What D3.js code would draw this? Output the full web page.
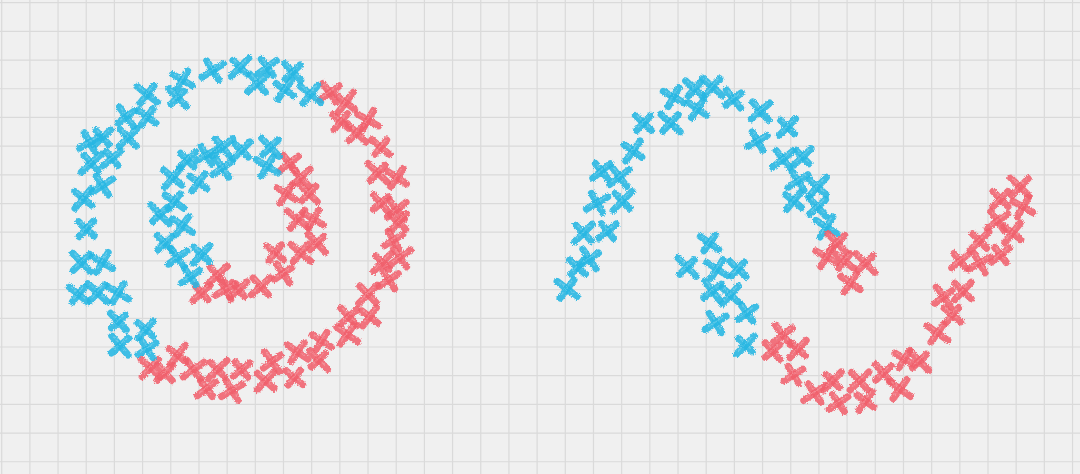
<!DOCTYPE html>
<html>
<head>
  <meta charset="utf-8">
  <script src="https://cdn.jsdelivr.net/npm/d3@7"></script>
  <title>Clustering on circles and moons</title>
  <style>
    html, body { margin: 0; padding: 0; background: #f0f0f0; }
    svg { display: block; }
  </style>
</head>
<body>
<svg width="1080" height="474"></svg>
<script>
  // circles dataset, outer radius = 1, inner ring ~0.5
  var circlesCyan = [
    [-0.33, 0.40], [-0.21, 0.43], [-0.11, 0.48], [0.01, 0.46], [-0.11, 0.35], [-0.42, 0.29],
    [-0.26, 0.26], [0.19, 0.48], [0.17, 0.36], [-0.41, 0.14], [-0.50, 0.06], [-0.36, -0.01],
    [-0.47, -0.12], [-0.39, -0.21], [-0.24, -0.19], [-0.31, -0.33],
    [-0.17, 0.96], [0.00, 0.98], [0.17, 0.98], [0.11, 0.88], [0.28, 0.84], [0.33, 0.95],
    [0.44, 0.81], [-0.36, 0.90], [-0.39, 0.79], [-0.58, 0.81], [-0.58, 0.67], [-0.71, 0.67],
    [-0.70, 0.54], [-0.86, 0.54], [-0.94, 0.51], [-0.93, 0.38], [-0.80, 0.41], [-0.86, 0.24],
    [-0.98, 0.16], [-0.96, -0.03], [-0.99, -0.24], [-0.86, -0.24], [-1.01, -0.44], [-0.89, -0.43],
    [-0.76, -0.43], [-0.76, -0.61], [-0.75, -0.76], [-0.59, -0.66], [-0.58, -0.78]
  ];
  var circlesRed = [
    [0.31, 0.38], [0.38, 0.29], [0.29, 0.19], [0.43, 0.19], [0.36, 0.03], [0.46, 0.03],
    [0.48, -0.12], [0.38, -0.18], [0.22, -0.18], [0.27, -0.31], [0.13, -0.39], [-0.01, -0.41],
    [-0.09, -0.41], [-0.14, -0.32], [-0.24, -0.43],
    [0.56, 0.82], [0.66, 0.76], [0.63, 0.64], [0.73, 0.57], [0.80, 0.65], [0.88, 0.48],
    [0.86, 0.32], [0.98, 0.29], [0.88, 0.13], [0.98, 0.09], [0.99, 0.01], [0.96, -0.10],
    [1.00, -0.21], [0.89, -0.24], [0.93, -0.35], [0.80, -0.44], [0.81, -0.58], [0.68, -0.58],
    [0.67, -0.69], [0.51, -0.73], [0.49, -0.85], [0.36, -0.80], [0.34, -0.96], [0.20, -0.86],
    [0.16, -0.98], [0.01, -0.91], [-0.05, -1.04], [-0.14, -0.91], [-0.21, -1.03], [-0.29, -0.91],
    [-0.39, -0.82], [-0.47, -0.93], [-0.56, -0.90]
  ];

  // moons dataset, x in [-1, 2], y in [-0.5, 1]
  var moonsCyan = [
    [-1.02, 0.03], [-0.95, 0.14], [-0.87, 0.18], [-0.91, 0.31], [-0.75, 0.32], [-0.82, 0.46],
    [-0.65, 0.47], [-0.79, 0.62], [-0.67, 0.59], [-0.58, 0.72], [-0.51, 0.86], [-0.33, 0.86],
    [-0.31, 0.99], [-0.17, 1.03], [-0.05, 1.04], [-0.15, 0.93], [0.09, 0.98], [0.27, 0.92],
    [0.45, 0.84], [0.25, 0.77], [0.42, 0.68], [0.55, 0.69], [0.52, 0.57], [0.65, 0.54],
    [0.49, 0.47], [0.65, 0.44], [0.71, 0.34],
    [-0.07, 0.26], [-0.22, 0.14], [-0.02, 0.13], [0.12, 0.13], [-0.05, 0.02], [0.07, 0.00],
    [0.18, -0.09], [-0.03, -0.14], [0.17, -0.25]
  ];
  var moonsRed = [
    [0.78, 0.26], [0.71, 0.19], [0.83, 0.17], [0.97, 0.16], [0.87, 0.06],
    [0.35, -0.28], [0.42, -0.20], [0.52, -0.27], [0.49, -0.40], [0.63, -0.49], [0.75, -0.43],
    [0.79, -0.54], [0.93, -0.43], [0.97, -0.53], [1.09, -0.39], [1.20, -0.47], [1.23, -0.32],
    [1.33, -0.33], [1.45, -0.19], [1.55, -0.10], [1.49, -0.01], [1.62, 0.02], [1.60, 0.17],
    [1.73, 0.16], [1.73, 0.27], [1.87, 0.20], [1.85, 0.37], [1.95, 0.31], [1.87, 0.48],
    [2.00, 0.54], [2.02, 0.44]
  ];

  var cyan = "#25b6e3", red = "#f0606c";

  var width = 1080, height = 474;
  var svg = d3.select( "svg" );

  // crayon look: rough edges
  var defs = svg.append( "defs" );
  var filter = defs.append( "filter" ).attr( "id", "crayon" )
      .attr( "x", "-20%" ).attr( "y", "-20%" ).attr( "width", "140%" ).attr( "height", "140%" );
  filter.append( "feTurbulence" ).attr( "type", "fractalNoise" ).attr( "baseFrequency", 0.9 )
      .attr( "numOctaves", 2 ).attr( "seed", 3 ).attr( "result", "noise" );
  filter.append( "feDisplacementMap" ).attr( "in", "SourceGraphic" ).attr( "in2", "noise" )
      .attr( "scale", 3.5 ).attr( "xChannelSelector", "R" ).attr( "yChannelSelector", "G" );

  // graph paper grid
  var gx = d3.range( 1.7, width, 28.18 ),
      gy = d3.range( 2.7, height, 28.69 );

  svg.append( "rect" ).attr( "width", width ).attr( "height", height ).attr( "fill", "#f0f0f0" );

  var grid = svg.append( "g" ).attr( "class", "grid" )
      .attr( "stroke", "#dadada" ).attr( "stroke-width", 1.2 );
  grid.selectAll( "line.v" ).data( gx ).enter().append( "line" )
      .attr( "class", "v" )
      .attr( "x1", function ( d ) { return d; } ).attr( "x2", function ( d ) { return d; } )
      .attr( "y1", 0 ).attr( "y2", height );
  grid.selectAll( "line.h" ).data( gy ).enter().append( "line" )
      .attr( "class", "h" )
      .attr( "y1", function ( d ) { return d; } ).attr( "y2", function ( d ) { return d; } )
      .attr( "x1", 0 ).attr( "x2", width );

  // scales for the two panels
  var cx = d3.scaleLinear().domain( [-1, 1] ).range( [80, 400] ),
      cy = d3.scaleLinear().domain( [-1, 1] ).range( [384, 64] );
  var mx = d3.scaleLinear().domain( [-1, 2] ).range( [570, 1020] ),
      my = d3.scaleLinear().domain( [-0.5, 1] ).range( [395, 95] );

  // deterministic wobble per mark, so each cross looks hand drawn
  function wobble( i, k )
  {
    return Math.sin( i * 12.9898 + k * 78.233 ) * 0.5 + Math.cos( i * 4.1 + k ) * 0.5;
  }

  function drawCrosses( data, xs, ys, color, offset )
  {
    var g = svg.append( "g" ).attr( "filter", "url(#crayon)" );
    var marks = g.selectAll( "g.mark" ).data( data ).enter()
        .append( "g" )
        .attr( "class", "mark" )
        .attr( "transform", function ( d, i )
        {
          var a = wobble( i + offset, 1 ) * 16;
          return "translate(" + xs( d[0] ) + "," + ys( d[1] ) + ") rotate(" + a + ")";
        } );

    [1, -1].forEach( function ( dir, k )
    {
      marks.append( "path" )
          .attr( "fill", "none" )
          .attr( "stroke", color )
          .attr( "stroke-opacity", 0.88 )
          .attr( "stroke-width", 7 )
          .attr( "stroke-linecap", "round" )
          .attr( "d", function ( d, i )
          {
            var r = 8 + wobble( i + offset, k + 2 ) * 1.5;
            return ["M", -r, -dir * r, "L", r, dir * r].join( " " );
          } );
      marks.append( "path" )
          .attr( "fill", "none" )
          .attr( "stroke", "#ffffff" )
          .attr( "stroke-opacity", 0.22 )
          .attr( "stroke-width", 1.5 )
          .attr( "stroke-dasharray", "2 2" )
          .attr( "stroke-linecap", "round" )
          .attr( "d", function ( d, i )
          {
            var r = 6 + wobble( i + offset, k + 2 ) * 1.2;
            return ["M", -r, -dir * r - 1.5, "L", r, dir * r - 1.5].join( " " );
          } );
    } );
  }

  drawCrosses( circlesRed, cx, cy, red, 0 );
  drawCrosses( circlesCyan, cx, cy, cyan, 100 );
  drawCrosses( moonsCyan, mx, my, cyan, 200 );
  drawCrosses( moonsRed, mx, my, red, 300 );
</script>
</body>
</html>
